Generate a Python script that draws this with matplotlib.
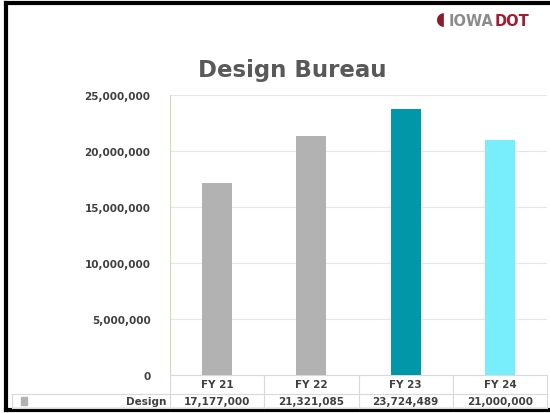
import numpy as np
import matplotlib.pyplot as plt
from matplotlib.lines import Line2D
from matplotlib.patches import Rectangle

categories = ["FY 21", "FY 22", "FY 23", "FY 24"]
design = [17177000, 21321085, 23724489, 21000000]
value_labels = ["17,177,000", "21,321,085", "23,724,489", "21,000,000"]
bar_colors = ["#b2b2b2", "#b2b2b2", "#0097a9", "#78eefc"]
series_name = "Design"

W, H = 550, 414
fig = plt.figure(figsize=(5.5, 4.14), dpi=100)

def fx(px):
    return px / W

def fy(py):
    return 1 - py / H

# slide frame
fig.add_artist(Line2D([fx(6), fx(550)], [fy(4), fy(4)], color="black", lw=3))
fig.add_artist(Line2D([fx(6), fx(6)], [fy(4), fy(411)], color="black", lw=3))
fig.add_artist(Line2D([fx(6), fx(550)], [fy(411), fy(411)], color="black", lw=3))

# logo
fig.text(fx(441), fy(20), "\u25D6", color="#8a1c2b", fontsize=13, ha="center", va="center")
iowa = fig.text(fx(449), fy(21), "IOWA", color="#8c8c8c", fontsize=10.5, fontweight="bold",
                ha="left", va="center")
fig.canvas.draw()
bb = iowa.get_window_extent().transformed(fig.transFigure.inverted())
fig.text(bb.x1 + fx(1), fy(21), "DOT", color="#a01c2e", fontsize=10.5, fontweight="bold",
         ha="left", va="center")

ax = fig.add_axes([fx(170), fy(376), fx(547) - fx(170), fy(96) - fy(376)])
x = np.arange(len(categories))
ax.bar(x, design, width=0.32, color=bar_colors, zorder=3)
ax.set_xlim(-0.5, len(categories) - 0.5)
ax.set_ylim(0, 25000000)
ax.set_yticks(np.arange(0, 25000001, 5000000))
ax.set_yticklabels([f"{v:,}" for v in range(0, 25000001, 5000000)])
ax.tick_params(axis="y", length=0, pad=14, labelsize=7.5, labelcolor="#404040")
for lab in ax.get_yticklabels():
    lab.set_fontweight("bold")
ax.set_xticks([])
ax.grid(axis="y", color="#e6e6e6", lw=0.8, zorder=0)
for s in ["top", "right"]:
    ax.spines[s].set_visible(False)
ax.spines["left"].set_color("#c5e0b4")
ax.spines["bottom"].set_color("#d9d9d9")

fig.text(fx(292), fy(70), "Design Bureau", fontsize=16.5, fontweight="bold",
         color="#595959", ha="center", va="center")

# data table under the chart
grid_c = "#d9d9d9"
edges = [fx(170) + (fx(547) - fx(170)) * i / len(categories) for i in range(len(categories) + 1)]
fig.add_artist(Line2D([fx(12), fx(547)], [fy(395), fy(395)], color=grid_c, lw=0.8))
fig.add_artist(Line2D([fx(12), fx(547)], [fy(409), fy(409)], color=grid_c, lw=0.8))
fig.add_artist(Line2D([fx(12), fx(12)], [fy(395), fy(409)], color=grid_c, lw=0.8))
for e in edges:
    fig.add_artist(Line2D([e, e], [fy(376), fy(409)], color=grid_c, lw=0.8))
for i, (cat, val) in enumerate(zip(categories, value_labels)):
    cx = (edges[i] + edges[i + 1]) / 2
    fig.text(cx, fy(385.5), cat, fontsize=7.5, fontweight="bold", color="#404040",
             ha="center", va="center")
    fig.text(cx, fy(402), val, fontsize=7.5, fontweight="bold", color="#404040",
             ha="center", va="center")
fig.add_artist(Rectangle((fx(21), fy(405.5)), fx(6), fy(398.5) - fy(405.5),
                         color=bar_colors[0], transform=fig.transFigure))
fig.text(fx(166), fy(402), series_name, fontsize=7.5, fontweight="bold", color="#404040",
         ha="right", va="center")

fig.savefig("out.png", dpi=100)
